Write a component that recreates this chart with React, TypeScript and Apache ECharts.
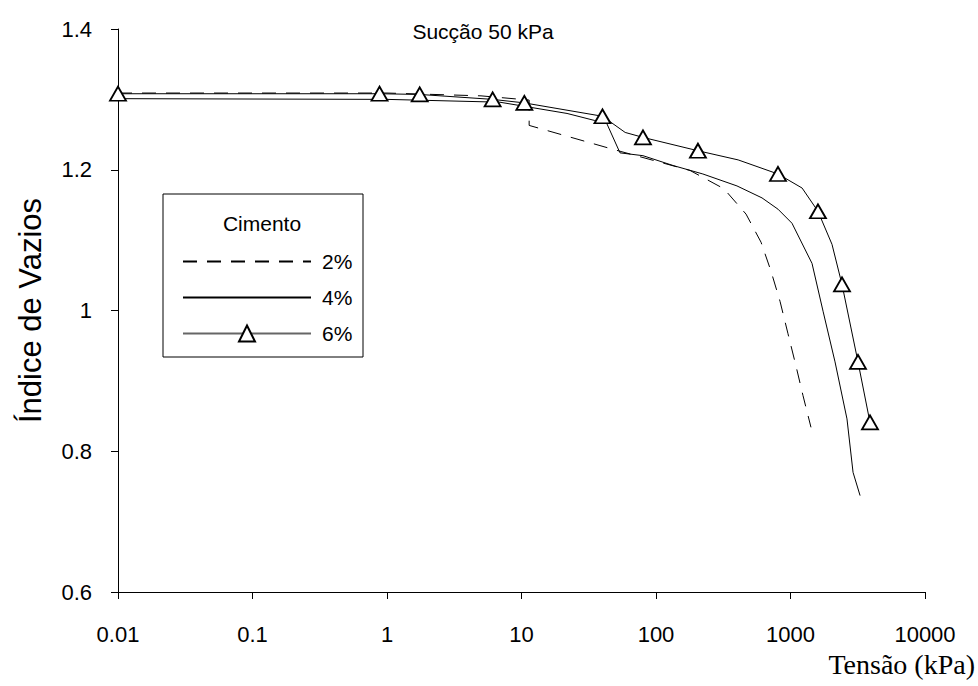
import React, { useEffect, useRef } from "react";
import * as echarts from "echarts";

// ---- data ----
const seriesNames = ["2%", "4%", "6%"];

const load2 = [0.01, 1, 5, 11.4, 11.4, 48, 179, 320, 467, 604, 716, 836, 958, 1099, 1239, 1420];
const void2 = [1.309, 1.309, 1.305, 1.299, 1.263, 1.229, 1.199, 1.173, 1.137, 1.097, 1.056, 1.013, 0.967, 0.921, 0.879, 0.834];

const load4 = [0.01, 1, 6.9, 21.8, 35, 43, 54, 80, 134, 223, 400, 614, 807, 1026, 1445, 1746, 2143, 2630, 2918, 3290];
const void4 = [1.301, 1.3, 1.296, 1.28, 1.27, 1.266, 1.224, 1.22, 1.206, 1.194, 1.177, 1.16, 1.144, 1.124, 1.067, 0.999, 0.927, 0.846, 0.77, 0.737];

const load6 = [0.01, 0.88, 1.75, 6.1, 10.5, 40, 59, 80, 205, 408, 807, 1220, 1600, 2035, 2415, 3175, 3900];
const void6 = [1.308, 1.308, 1.307, 1.3, 1.295, 1.276, 1.253, 1.246, 1.227, 1.214, 1.194, 1.174, 1.141, 1.094, 1.037, 0.927, 0.841];
const marker6 = [1, 1, 1, 1, 1, 1, 0, 1, 1, 0, 1, 0, 1, 0, 1, 1, 1];

const yMin = 0.6;
const yMax = 1.4;
const yStep = 0.2;
const xMin = 0.01;
const xMax = 10000;

const titleText = "Sucção 50 kPa";
const yName = "Índice de Vazios";
const xName = "Tensão (kPa)";
const legendTitle = "Cimento";

const SANS = "'Liberation Sans', Arial, sans-serif";
const SERIF = "'Liberation Serif', 'Times New Roman', serif";

export default function App() {
  const ref = useRef<HTMLDivElement>(null);

  useEffect(() => {
    if (!ref.current) return;
    const chart = echarts.init(ref.current, null, { renderer: "svg" });

    const pairs = (xs: number[], ys: number[]) => xs.map((x, i) => [x, ys[i]]);

    const option: any = {
      animation: false,
      backgroundColor: "#fff",
      title: {
        text: titleText,
        left: 478,
        textAlign: "center",
        top: 16,
        textStyle: { fontFamily: SANS, fontSize: 21, fontWeight: "normal", color: "#000" },
      },
      grid: { left: 118, right: 53, top: 29, bottom: 94, containLabel: false },
      legend: {
        data: [
          { name: seriesNames[0], itemStyle: { opacity: 0 } },
          { name: seriesNames[1], itemStyle: { opacity: 0 } },
          { name: seriesNames[2], lineStyle: { color: "#666" } },
        ],
        orient: "vertical",
        left: 177,
        top: 246,
        itemWidth: 128,
        itemHeight: 20,
        itemGap: 15,
        textStyle: {
          fontFamily: SANS,
          fontSize: 21,
          color: "#000",
          lineHeight: 14,
          padding: [0, 0, 0, 6],
        },
      },
      xAxis: {
        type: "log",
        logBase: 10,
        min: xMin,
        max: xMax,
        splitNumber: 6,
        name: xName,
        nameLocation: "end",
        nameGap: 50,
        nameTextStyle: {
          fontFamily: SERIF,
          fontSize: 28,
          color: "#000",
          align: "right",
          verticalAlign: "top",
          padding: [58, 0, 0, 0],
        },
        axisLine: { show: true, onZero: false, lineStyle: { color: "#000", width: 1 } },
        axisTick: { show: true, inside: false, length: 7, lineStyle: { color: "#000" } },
        minorTick: { show: false },
        splitLine: { show: false },
        axisLabel: {
          margin: 31,
          fontFamily: SANS,
          fontSize: 22,
          color: "#000",
          formatter: (v: number) => {
            const e = Math.round(Math.log10(v));
            return e < 0 ? Math.pow(10, e).toFixed(-e) : String(Math.pow(10, e));
          },
        },
      },
      yAxis: {
        type: "value",
        min: yMin,
        max: yMax,
        interval: yStep,
        name: yName,
        nameLocation: "middle",
        nameGap: 72,
        nameTextStyle: { fontFamily: SANS, fontSize: 31, color: "#000" },
        axisLine: { show: true, onZero: false, lineStyle: { color: "#000", width: 1 } },
        axisTick: { show: true, inside: false, length: 7, lineStyle: { color: "#000" } },
        splitLine: { show: false },
        axisLabel: {
          margin: 26,
          fontFamily: SANS,
          fontSize: 22,
          color: "#000",
          formatter: (v: number) => String(Math.round(v * 10) / 10),
        },
      },
      graphic: [
        {
          type: "rect",
          shape: { x: 163, y: 194, width: 200, height: 163 },
          style: { fill: "none", stroke: "#000", lineWidth: 1 },
          z: 10,
        },
        {
          type: "text",
          x: 262,
          y: 223,
          style: {
            text: legendTitle,
            fontFamily: SANS,
            fontSize: 21,
            fill: "#000",
            align: "center",
            verticalAlign: "middle",
          },
          z: 10,
        },
      ],
      series: [
        {
          name: seriesNames[0],
          type: "line",
          data: pairs(load2, void2),
          symbol: "none",
          lineStyle: { color: "#000", width: 1, type: [14, 10] },
          itemStyle: { color: "#000" },
        },
        {
          name: seriesNames[1],
          type: "line",
          data: pairs(load4, void4),
          symbol: "none",
          lineStyle: { color: "#000", width: 1 },
          itemStyle: { color: "#000" },
        },
        {
          name: seriesNames[2],
          type: "line",
          data: load6.map((x, i) => ({
            value: [x, void6[i]],
            symbol: marker6[i] ? "triangle" : "none",
          })),
          symbol: "triangle",
          symbolSize: [16, 14],
          showSymbol: true,
          lineStyle: { color: "#000", width: 1 },
          itemStyle: { color: "#fff", borderColor: "#000", borderWidth: 1.8 },
          z: 5,
        },
      ],
    };

    chart.setOption(option);
    return () => chart.dispose();
  }, []);

  return <div ref={ref} style={{ width: 978, height: 686, position: "absolute", left: 0, top: 0 }} />;
}
